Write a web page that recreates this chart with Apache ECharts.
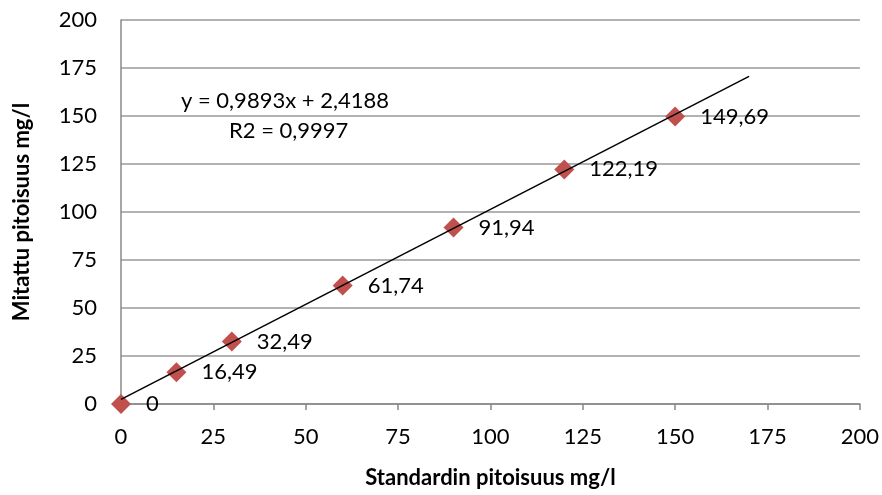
<!DOCTYPE html>
<html>
<head>
<meta charset="utf-8">
<script src="https://cdn.jsdelivr.net/npm/echarts@6/dist/echarts.min.js"></script>
<style>
  html, body { margin: 0; padding: 0; background: #fff; }
  #chart { width: 882px; height: 495px; }
</style>
</head>
<body>
<div id="chart"></div>
<script>
// measured data
var standardX = [0, 15, 30, 60, 90, 120, 150];
var measuredY = [0, 16.49, 32.49, 61.74, 91.94, 122.19, 149.69];
// trendline end points as drawn (x from 0 to 170)
var trendX = [0, 170];
var trendY = [2.42, 170.6];
var equationText = 'y = 0,9893x + 2,4188';
var r2Text = 'R2 = 0,9997';

var font = 'Lato, "Open Sans", sans-serif';

function fmt(v) {
    return String(v).replace('.', ',');
}

var dom = document.getElementById('chart');
var chart = echarts.init(dom);

var points = standardX.map(function (x, i) { return [x, measuredY[i]]; });
var trend = trendX.map(function (x, i) { return [x, trendY[i]]; });

chart.setOption({
    animation: false,
    grid: { left: 121, right: 22, top: 20, bottom: 91 },
    xAxis: {
        type: 'value', min: 0, max: 200, interval: 25,
        name: 'Standardin pitoisuus mg/l',
        nameLocation: 'middle', nameGap: 63,
        nameTextStyle: { fontFamily: font, fontSize: 22, fontWeight: 'bold', color: '#000' },
        axisLine: { show: true, lineStyle: { color: '#888', width: 1.5 } },
        axisTick: { show: true, length: 6, lineStyle: { color: '#888', width: 1.5 } },
        axisLabel: { fontFamily: font, fontSize: 22, color: '#000', margin: 22 },
        splitLine: { show: false }
    },
    yAxis: {
        type: 'value', min: 0, max: 200, interval: 25,
        name: 'Mitattu pitoisuus mg/l',
        nameLocation: 'middle', nameGap: 88, nameRotate: 90,
        nameTextStyle: { fontFamily: font, fontSize: 22, fontWeight: 'bold', color: '#000' },
        axisLine: { show: true, lineStyle: { color: '#888', width: 1.5 } },
        axisTick: { show: false },
        axisLabel: { fontFamily: font, fontSize: 22, color: '#000', margin: 24 },
        splitLine: { show: true, lineStyle: { color: '#999', width: 1.5 } }
    },
    series: [
        {
            type: 'line',
            data: trend,
            symbol: 'none',
            lineStyle: { color: '#000', width: 1.5 },
            z: 3
        },
        {
            type: 'scatter',
            data: points,
            symbol: 'diamond',
            symbolSize: 20,
            itemStyle: { color: '#C0504D', opacity: 1 },
            z: 2,
            label: {
                show: true,
                position: 'right',
                distance: 15,
                fontFamily: font,
                fontSize: 22,
                color: '#000',
                formatter: function (p) { return fmt(p.value[1]); }
            }
        }
    ],
    graphic: [
        {
            type: 'text', left: 181, top: 90,
            style: { text: equationText, font: '22px ' + font, fill: '#000' }
        },
        {
            type: 'text', left: 229, top: 120,
            style: { text: r2Text, font: '22px ' + font, fill: '#000' }
        }
    ]
});
</script>
</body>
</html>
